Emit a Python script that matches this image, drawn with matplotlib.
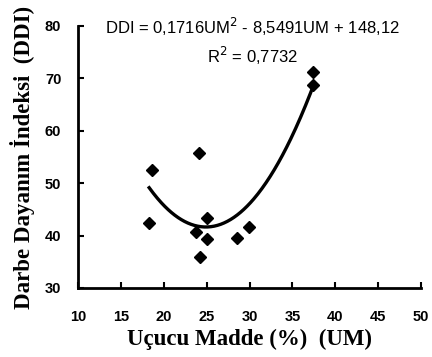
import matplotlib.pyplot as plt
import numpy as np

# Data
um = [18.3, 18.6, 23.8, 24.1, 24.2, 25.0, 25.1, 28.5, 29.9, 37.4, 37.4]
ddi = [42.4, 52.5, 40.7, 55.7, 35.9, 39.3, 43.3, 39.5, 41.6, 68.7, 71.3]

# Trendline coefficients as printed on the chart
coef = [0.1716, -8.5491, 148.12]

x_ticks = [10, 15, 20, 25, 30, 35, 40, 45, 50]
y_ticks = [30, 40, 50, 60, 70, 80]

fig = plt.figure(figsize=(4.32, 3.57), dpi=100)
ax = fig.add_axes([0.1806, 0.1933, 0.7939, 0.7339])

ax.plot(um, ddi, ls='', marker='D', ms=6.5, mfc='k', mec='k')

xs = np.linspace(min(um), max(um), 200)
ax.plot(xs, np.polyval(coef, xs), color='k', lw=2.4)

ax.set_xlim(10, 50)
ax.set_ylim(30, 80)
ax.set_xticks(x_ticks)
ax.set_yticks(y_ticks)
for s in ['top', 'right']:
    ax.spines[s].set_visible(False)
for s in ['left', 'bottom']:
    ax.spines[s].set_linewidth(2)
ax.tick_params(direction='in', width=1.5, length=4, labelsize=10.5)
ax.tick_params(axis='x', pad=16)
ax.tick_params(axis='y', pad=12)
for lab in ax.get_xticklabels() + ax.get_yticklabels():
    lab.set_fontfamily('Liberation Sans')
    lab.set_fontweight('bold')

ax.set_xlabel('Uçucu Madde (%)  (UM)', family='Liberation Serif',
              fontweight='bold', fontsize=16.5, labelpad=3)
ax.set_ylabel('Darbe Dayanım İndeksi  (DDI)', family='Liberation Serif',
              fontweight='bold', fontsize=16.5, labelpad=7)

ax.text(0.51, 0.995, 'DDI = 0,1716UM$^2$ - 8,5491UM + 148,12', transform=ax.transAxes,
        ha='center', va='center', family='Liberation Sans', fontsize=12)
ax.text(0.51, 0.885, 'R$^2$ = 0,7732', transform=ax.transAxes,
        ha='center', va='center', family='Liberation Sans', fontsize=12)

plt.savefig('out.png', dpi=100)
